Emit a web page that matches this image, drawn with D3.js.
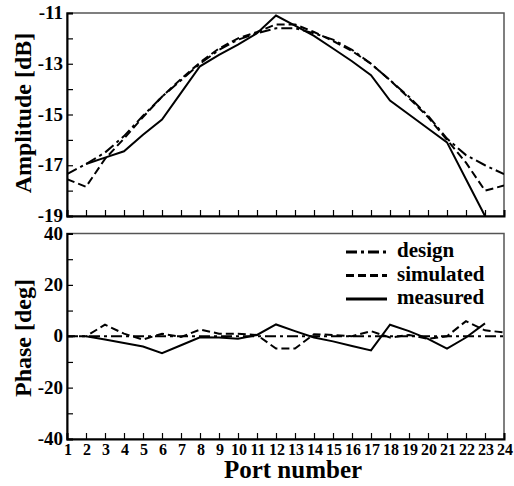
<!DOCTYPE html>
<html>
<head>
<meta charset="utf-8">
<script src="https://cdn.jsdelivr.net/npm/d3@7"></script>
<style>
  body { margin: 0; background: #fff; }
  text { font-family: "Liberation Serif", "Times New Roman", serif; font-weight: bold; fill: #000; }
</style>
</head>
<body>
<svg width="514" height="486"></svg>
<script>
// port numbers 1..24
const ports = d3.range(1, 25);

// amplitude [dB]
const ampDesign = [-17.35, -16.95, -16.5, -15.85, -15.05, -14.3, -13.65, -13.0, -12.45, -12.05, -11.8, -11.6,
                   -11.6, -11.8, -12.05, -12.45, -13.0, -13.65, -14.3, -15.05, -15.95, -16.6, -17.0, -17.35];
const ampSimulated = [-17.55, -17.85, -16.75, -15.95, -15.1, -14.3, -13.6, -12.95, -12.4, -12.0, -11.75, -11.45,
                      -11.45, -11.75, -12.1, -12.5, -13.0, -13.65, -14.35, -15.1, -16.0, -16.9, -18.0, -17.8];
const ampMeasured = [null, -16.95, -16.7, -16.45, -15.8, -15.2, -14.15, -13.1, -12.65, -12.25, -11.8, -11.1,
                     -11.5, -11.9, -12.4, -12.9, -13.45, -14.45, -15.0, -15.55, -16.1, -17.55, -19.0];

// phase [deg]
const phDesign = ports.map(() => 0);
const phSimulated = [0, 0, 4.5, 1, -1.3, 1, -0.3, 2.6, 1, 1, 0.5, -4.8,
                     -4.8, 0.8, 0.5, 0, 2, -0.5, 0.5, -1, 0, 5.9, 2.3, 1.5];
const phMeasured = [null, 0, -1.3, -2.6, -4, -6.6, -3.5, -0.4, -0.5, -1, 0.5, 4.6,
                    2, -0.5, -2, -3.8, -5.5, 4.5, 2, -1, -4.8, -0.5, 5];

const ampTicks = [-11, -13, -15, -17, -19];
const phTicks = [40, 20, 0, -20, -40];

const series = [
  { name: "design", amp: ampDesign, ph: phDesign, dash: "11,4,3,4" },
  { name: "simulated", amp: ampSimulated, ph: phSimulated, dash: "8,4" },
  { name: "measured", amp: ampMeasured, ph: phMeasured, dash: null }
];

const svg = d3.select("svg");
const left = 67, right = 504;

const x = d3.scaleLinear().domain([1, 24]).range([left, right]);
const yAmp = d3.scaleLinear().domain([-19, -11]).range([216, 13]);
const yPh = d3.scaleLinear().domain([-40, 40]).range([439, 233.5]);

function panel(y, major, minorStep, values, showX) {
  const g = svg.append("g");
  const [y0, y1] = y.range();
  const cid = "clip" + Math.round(y0);
  svg.append("clipPath").attr("id", cid)
    .append("rect").attr("x", left).attr("y", y1).attr("width", right - left).attr("height", y0 - y1);

  // frame
  g.append("rect").attr("x", left).attr("y", y1).attr("width", right - left).attr("height", y0 - y1)
    .attr("fill", "none").attr("stroke", "#555").attr("stroke-width", 1.5);

  // left axis, ticks inside
  const yl = g.append("g").attr("transform", `translate(${left},0)`)
    .call(d3.axisLeft(y).tickValues(d3.range(y.domain()[0], y.domain()[1] + 0.001, minorStep))
      .tickSize(-6).tickFormat(""));
  yl.select(".domain").attr("stroke", "#000").attr("stroke-width", 2);
  yl.selectAll(".tick line").attr("stroke", "#000").attr("stroke-width", 1.2);

  g.selectAll(".ylab").data(major).join("text")
    .attr("x", left - 4).attr("y", d => y(d) + 6)
    .attr("text-anchor", "end").attr("font-size", 19)
    .text(d => d);

  // bottom axis, ticks inside
  const xb = g.append("g").attr("transform", `translate(0,${y0})`)
    .call(d3.axisBottom(x).tickValues(ports).tickSize(-6).tickFormat(""));
  xb.select(".domain").attr("stroke", "#000").attr("stroke-width", 2);
  xb.selectAll(".tick line").attr("stroke", "#000").attr("stroke-width", 1.2);

  if (showX) {
    g.selectAll(".xlab").data(ports).join("text")
      .attr("x", d => x(d) + 1).attr("y", y0 + 16)
      .attr("text-anchor", "middle").attr("font-size", 16)
      .text(d => d);
  }

  const lines = g.append("g").attr("clip-path", `url(#${cid})`);
  series.forEach(s => {
    const line = d3.line()
      .defined(d => d != null)
      .x((d, i) => x(ports[i]))
      .y(d => y(d));
    lines.append("path")
      .attr("d", line(values(s)))
      .attr("fill", "none").attr("stroke", "#000").attr("stroke-width", 2)
      .attr("stroke-dasharray", s.dash);
  });
}

panel(yAmp, ampTicks, 1, s => s.amp, false);
panel(yPh, phTicks, 10, s => s.ph, true);

// axis titles
svg.append("text").attr("transform", "translate(31,113) rotate(-90)")
  .attr("text-anchor", "middle").attr("font-size", 24).text("Amplitude [dB]");
svg.append("text").attr("transform", "translate(31,338) rotate(-90)")
  .attr("text-anchor", "middle").attr("font-size", 24).text("Phase [deg]");
svg.append("text").attr("x", 293).attr("y", 478)
  .attr("text-anchor", "middle").attr("font-size", 25).text("Port number");

// legend
const leg = svg.append("g").attr("transform", "translate(346,252)");
series.forEach((s, i) => {
  const row = leg.append("g").attr("transform", `translate(0,${i * 23.5})`);
  row.append("line").attr("x1", 0).attr("x2", 41).attr("y1", 0).attr("y2", 0)
    .attr("stroke", "#000").attr("stroke-width", 3).attr("stroke-dasharray", s.dash);
  row.append("text").attr("x", 51).attr("y", 5).attr("font-size", 21).text(s.name);
});
</script>
</body>
</html>
